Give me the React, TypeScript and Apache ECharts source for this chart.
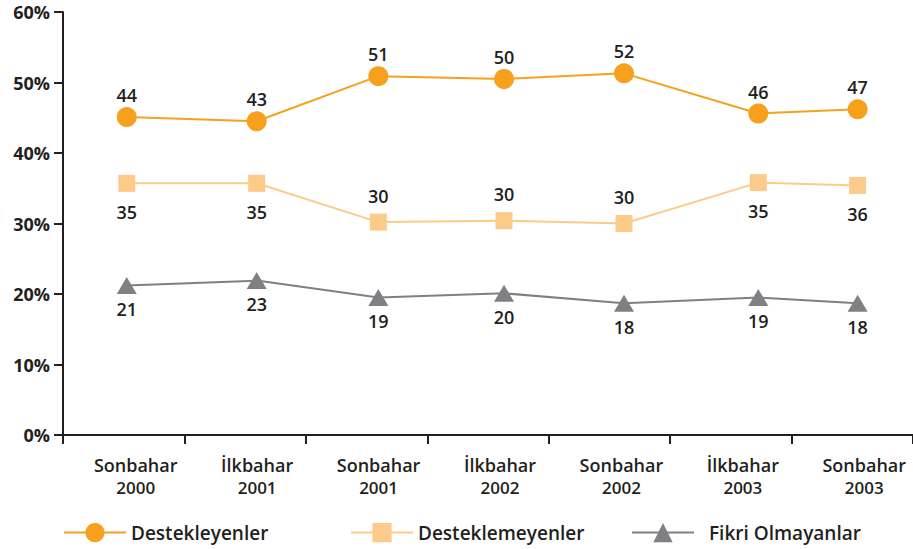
import React, { useEffect, useRef } from "react";
import * as echarts from "echarts";

const categories = [
  "Sonbahar\n2000",
  "İlkbahar\n2001",
  "Sonbahar\n2001",
  "İlkbahar\n2002",
  "Sonbahar\n2002",
  "İlkbahar\n2003",
  "Sonbahar\n2003",
];

// where each survey point sits along the time axis, in category units
const surveyPositions = [0.525, 1.595, 2.597, 3.632, 4.62, 5.726, 6.544];

// plotted positions (percent)
const supportersValues = [45.1, 44.5, 50.9, 50.5, 51.3, 45.6, 46.2];
const opponentsValues = [35.7, 35.7, 30.2, 30.4, 30.0, 35.8, 35.4];
const noOpinionValues = [21.2, 21.9, 19.5, 20.1, 18.7, 19.5, 18.7];

// printed labels
const supportersLabels = [44, 43, 51, 50, 52, 46, 47];
const opponentsLabels = [35, 35, 30, 30, 30, 35, 36];
const noOpinionLabels = [21, 23, 19, 20, 18, 19, 18];

const yTicks = [0, 10, 20, 30, 40, 50, 60];

const seriesNames = ["Destekleyenler", "Desteklemeyenler", "Fikri Olmayanlar"];

const FONT = "'Open Sans', sans-serif";
const TEXT = "#231F20";
const ORANGE = "#F6A01E";
const LIGHT = "#FDCB89";
const GRAY = "#808084";

export default function App() {
  const ref = useRef<HTMLDivElement>(null);

  useEffect(() => {
    if (!ref.current) return;
    const chart = echarts.init(ref.current, null, { renderer: "svg" });

    const labelStyle = {
      show: true,
      color: TEXT,
      fontFamily: FONT,
      fontWeight: 600,
      fontSize: 18,
      lineHeight: 18,
    };

    const squareAbove = [false, false, true, true, true, false, false];
    const pair = (vals: number[]) => vals.map((v, i) => [surveyPositions[i], v]);

    const option: any = {
      animation: false,
      textStyle: { fontFamily: FONT },
      grid: { left: 63, right: 0, top: 12, bottom: 114, containLabel: false },
      xAxis: [
        {
          type: "category",
          data: categories,
          boundaryGap: true,
          axisLine: { lineStyle: { color: TEXT, width: 2 } },
          axisTick: { show: true, length: 9, lineStyle: { color: TEXT, width: 2 } },
          axisLabel: {
            margin: 18,
            padding: [0, 0, 0, 24],
            formatter: (v: string) => {
              const [a, b] = v.split("\n");
              return `{a|${a}}\n{b|${b}}`;
            },
            rich: {
              a: { fontFamily: FONT, fontWeight: 600, fontSize: 18, lineHeight: 23, color: TEXT },
              b: { fontFamily: FONT, fontWeight: 600, fontSize: 17, lineHeight: 23, color: TEXT },
            },
          },
          splitLine: { show: false },
        },
        {
          type: "value",
          min: 0,
          max: categories.length,
          show: false,
          splitLine: { show: false },
        },
      ],
      yAxis: {
        type: "value",
        min: yTicks[0],
        max: yTicks[yTicks.length - 1],
        interval: 10,
        axisLine: { show: true, lineStyle: { color: TEXT, width: 2 } },
        axisTick: { show: true, length: 9, lineStyle: { color: TEXT, width: 2 } },
        axisLabel: {
          formatter: "{value}%",
          margin: 13,
          color: TEXT,
          fontFamily: FONT,
          fontWeight: 700,
          fontSize: 18,
        },
        splitLine: { show: false },
      },
      legend: [0, 1, 2].map((i) => ({
        data: [seriesNames[i]],
        left: [63, 350, 631][i],
        top: 523,
        itemWidth: 62,
        itemHeight: 24,
        padding: 0,
        textStyle: {
          color: TEXT,
          fontFamily: FONT,
          fontWeight: 600,
          fontSize: 19,
          padding: i === 2 ? [0, 0, 0, 10] : 0,
        },
      })),
      series: [
        {
          name: seriesNames[0],
          type: "line",
          xAxisIndex: 1,
          data: pair(supportersValues),
          symbol: "circle",
          symbolSize: 20,
          lineStyle: { color: ORANGE, width: 2 },
          itemStyle: { color: ORANGE },
          label: {
            ...labelStyle,
            position: "top",
            distance: 3,
            formatter: (p: any) => String(supportersLabels[p.dataIndex]),
          },
          z: 3,
        },
        {
          name: seriesNames[1],
          type: "line",
          xAxisIndex: 1,
          data: pair(opponentsValues).map((v, i) => ({
            value: v,
            label: { position: squareAbove[i] ? "top" : "bottom", distance: squareAbove[i] ? 9 : 11 },
          })),
          symbol: "rect",
          symbolSize: 17,
          lineStyle: { color: LIGHT, width: 2 },
          itemStyle: { color: LIGHT },
          label: {
            ...labelStyle,
            formatter: (p: any) => String(opponentsLabels[p.dataIndex]),
          },
          z: 2,
        },
        {
          name: seriesNames[2],
          type: "line",
          xAxisIndex: 1,
          data: pair(noOpinionValues),
          symbol: "triangle",
          symbolSize: [20, 17],
          lineStyle: { color: GRAY, width: 2 },
          itemStyle: { color: GRAY },
          label: {
            ...labelStyle,
            position: "bottom",
            distance: 6,
            formatter: (p: any) => String(noOpinionLabels[p.dataIndex]),
          },
          z: 1,
        },
      ],
    };

    chart.setOption(option);
    return () => chart.dispose();
  }, []);

  return <div ref={ref} style={{ width: 913, height: 549, position: "absolute", left: 0, top: 0 }} />;
}
